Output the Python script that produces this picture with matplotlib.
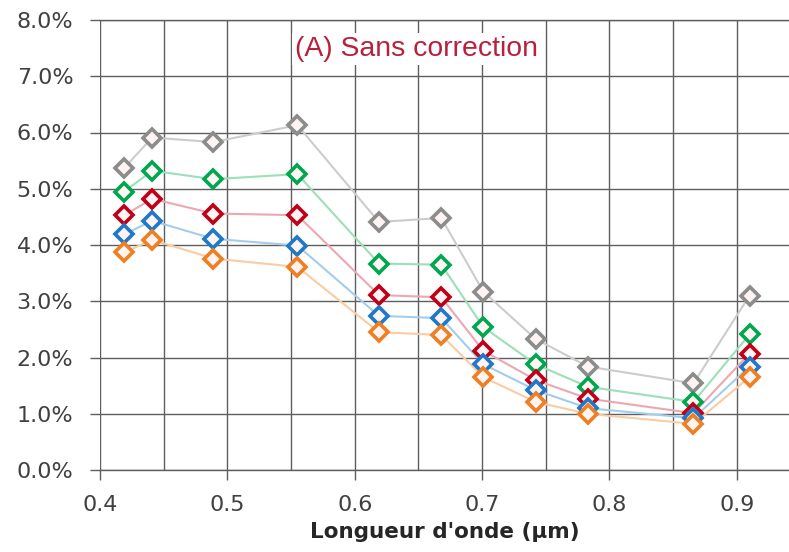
import numpy as np
import matplotlib.pyplot as plt
from matplotlib.ticker import PercentFormatter, MultipleLocator

# wavelengths (um)
wl = [0.419, 0.441, 0.489, 0.555, 0.619, 0.668, 0.701, 0.742, 0.783, 0.866, 0.910]

# relative error (%) for each series
s_gray = [5.37, 5.91, 5.83, 6.13, 4.41, 4.48, 3.17, 2.33, 1.84, 1.54, 3.10]
s_green = [4.95, 5.32, 5.17, 5.26, 3.67, 3.65, 2.54, 1.88, 1.48, 1.21, 2.41]
s_red = [4.53, 4.82, 4.56, 4.53, 3.11, 3.07, 2.12, 1.60, 1.27, 1.01, 2.07]
s_blue = [4.19, 4.43, 4.11, 3.99, 2.74, 2.70, 1.88, 1.42, 1.10, 0.92, 1.84]
s_orange = [3.87, 4.09, 3.76, 3.61, 2.45, 2.40, 1.65, 1.21, 1.00, 0.82, 1.65]

series = [
    (s_gray, "#8c8c8c", "#cccccc"),
    (s_green, "#00a650", "#9be0b8"),
    (s_red, "#c00018", "#eca8b0"),
    (s_blue, "#1f78c8", "#a4cced"),
    (s_orange, "#f07f22", "#f9cca4"),
]

fig = plt.figure(figsize=(7.89, 5.52), dpi=100)
ax = fig.add_axes([100 / 789, 82 / 552, 1 - 100 / 789, 450 / 552])

for vals, edge, line in series:
    ax.plot(wl, vals, color=line, lw=1.5, zorder=2)
    ax.plot(wl, vals, ls="none", marker="D", ms=9, mew=2.6,
            mec=edge, mfc="#fff4f4", zorder=3)

ax.set_xlim(0.4, 0.941)
ax.set_ylim(0, 8)
ax.xaxis.set_major_locator(MultipleLocator(0.1))
ax.xaxis.set_minor_locator(MultipleLocator(0.05))
ax.yaxis.set_major_locator(MultipleLocator(1))
ax.yaxis.set_major_formatter(PercentFormatter(decimals=1))
ax.xaxis.set_major_formatter(plt.FuncFormatter(lambda v, p: f"{v:.1f}"))

ax.grid(True, which="both", color="#5e5e5e", lw=1.0, zorder=0)
for side, s in ax.spines.items():
    if side in ("top", "bottom"):
        s.set_color("#5e5e5e")
        s.set_linewidth(1.0)
    else:
        s.set_visible(False)
ax.tick_params(which="major", length=7.2, width=1.0, color="#5e5e5e",
               labelsize=16, labelcolor="#404040")
ax.tick_params(axis="y", pad=12)
ax.tick_params(axis="x", pad=11)
ax.tick_params(which="minor", length=0)

ax.set_xlabel("Longueur d'onde (µm)", fontsize=15.5, fontweight="bold",
              color="#262626", labelpad=5)

ax.text(0.459, 0.935, "(A) Sans correction", transform=ax.transAxes,
        ha="center", va="center", fontsize=20.4, family="Liberation Sans",
        color="#b8203c", bbox=dict(fc="white", ec="none", pad=2), zorder=5)

fig.savefig("out.png", dpi=100)
